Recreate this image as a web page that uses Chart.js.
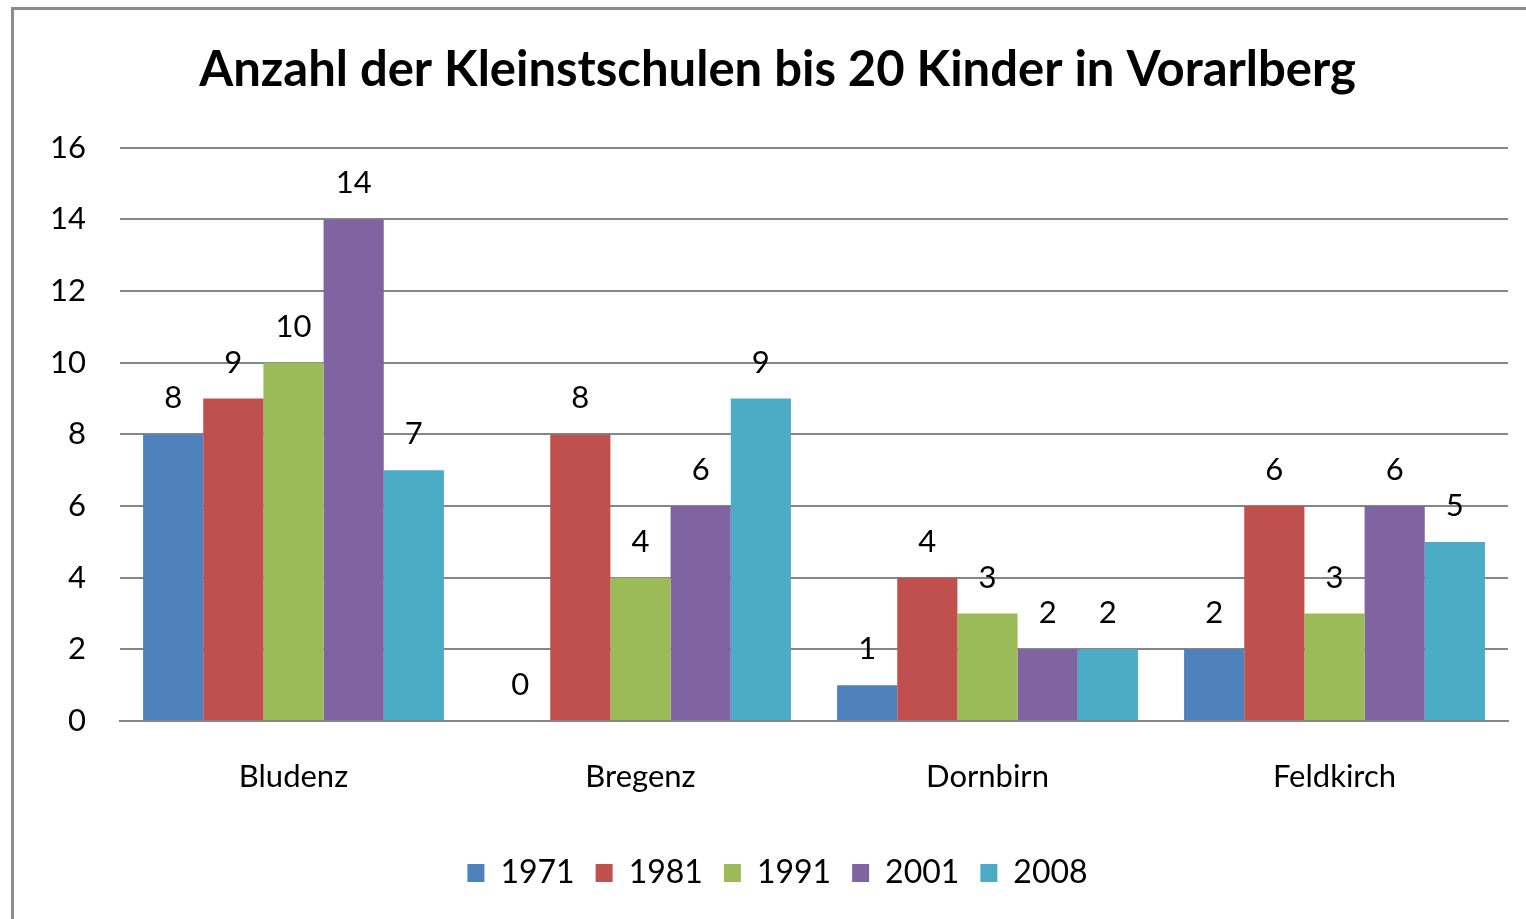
<!DOCTYPE html>
<html>
<head>
<meta charset="utf-8">
<script src="https://cdn.jsdelivr.net/npm/chart.js@4.4.1/dist/chart.umd.min.js"></script>
<style>
  html, body { margin: 0; padding: 0; background: #fff; }
  #wrap { position: relative; width: 1526px; height: 919px; overflow: hidden; }
  #frame { position: absolute; left: 11px; top: 7px; width: 1600px; height: 1000px; border: 3px solid #8c8c8c; box-sizing: border-box; }
  #c { position: absolute; left: 0; top: 0; }
</style>
</head>
<body>
<div id="wrap">
  <div id="frame"></div>
  <canvas id="c" width="1526" height="919"></canvas>
</div>
<script>
const titleText = 'Anzahl der Kleinstschulen bis 20 Kinder in Vorarlberg';
const categories = ['Bludenz', 'Bregenz', 'Dornbirn', 'Feldkirch'];
const seriesNames = ['1971', '1981', '1991', '2001', '2008'];
const v1971 = [8, 0, 1, 2];
const v1981 = [9, 8, 4, 6];
const v1991 = [10, 4, 3, 3];
const v2001 = [14, 6, 2, 6];
const v2008 = [7, 9, 2, 5];
const colors = ['#4F81BD', '#C0504D', '#9BBB59', '#8064A2', '#4BACC6'];
const yTicks = [0, 2, 4, 6, 8, 10, 12, 14, 16];

const FONT = 'Lato, "Open Sans", sans-serif';
const seriesValues = [v1971, v1981, v1991, v2001, v2008];
const PAD_LEFT = 47;

const valueLabels = {
  id: 'valueLabels',
  afterDatasetsDraw(chart) {
    const ctx = chart.ctx;
    ctx.save();
    ctx.font = '31px ' + FONT;
    ctx.fillStyle = '#000';
    ctx.textAlign = 'center';
    ctx.textBaseline = 'middle';
    chart.data.datasets.forEach((ds, i) => {
      chart.getDatasetMeta(i).data.forEach((bar, j) => {
        ctx.fillText(String(ds.data[j]), bar.x, bar.y - 36);
      });
    });
    ctx.restore();
  }
};

new Chart(document.getElementById('c'), {
  type: 'bar',
  data: {
    labels: categories,
    datasets: seriesNames.map((n, i) => ({
      label: n,
      data: seriesValues[i],
      backgroundColor: colors[i],
      borderWidth: 0,
      categoryPercentage: 0.867,
      barPercentage: 1.0
    }))
  },
  options: {
    responsive: false,
    animation: false,
    devicePixelRatio: 1,
    layout: { padding: { left: PAD_LEFT, right: 18, top: 0, bottom: 20 } },
    plugins: {
      title: {
        display: true,
        text: titleText,
        color: '#000',
        font: { family: FONT, size: 49, weight: 'bold' },
        padding: { top: 41, bottom: 48 }
      },
      legend: {
        display: true,
        position: 'bottom',
        labels: {
          color: '#000',
          font: { family: FONT, size: 32 },
          boxWidth: 17,
          boxHeight: 18,
          padding: 21
        }
      },
      tooltip: { enabled: false }
    },
    scales: {
      x: {
        grid: { display: false, drawTicks: false },
        border: { display: true, color: '#868686', width: 2 },
        ticks: { color: '#000', font: { family: FONT, size: 31 }, padding: 37 },
        afterFit(s) { s.height = 115; }
      },
      y: {
        min: 0, max: 16,
        afterBuildTicks(s) { s.ticks = yTicks.map(v => ({ value: v })); },
        grid: { color: '#868686', lineWidth: 2, drawTicks: false },
        border: { display: false },
        ticks: { color: '#000', font: { family: FONT, size: 31 }, padding: 34 },
        afterFit(s) { s.width = 120 - PAD_LEFT; }
      }
    }
  },
  plugins: [valueLabels]
});
</script>
</body>
</html>
